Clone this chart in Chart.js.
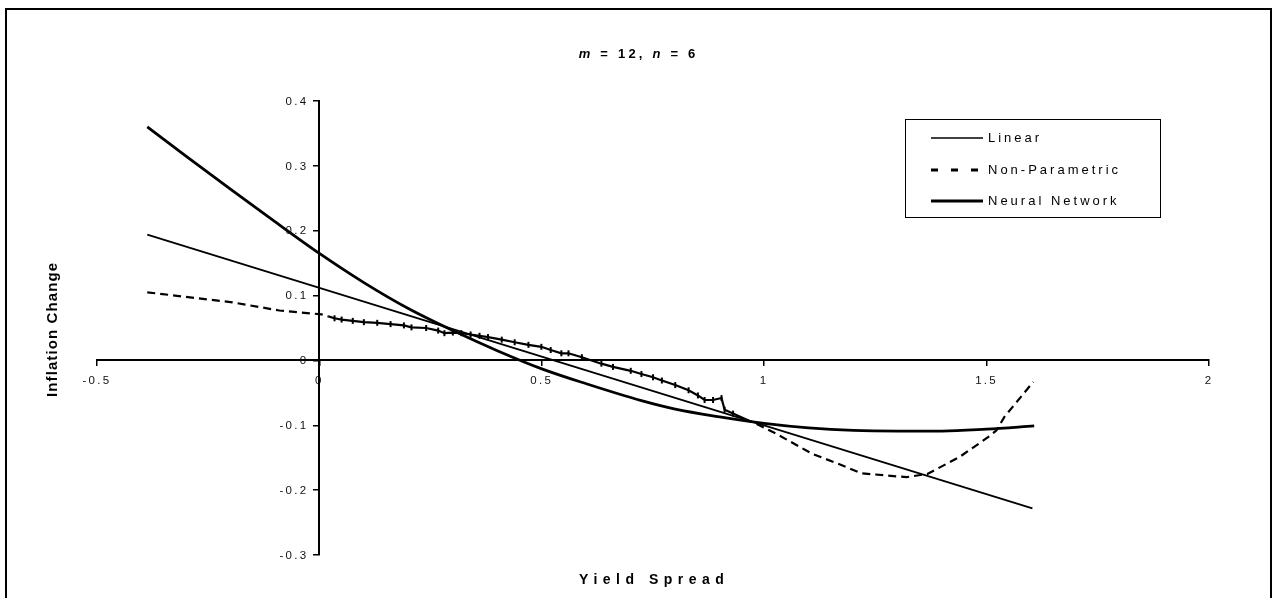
<!DOCTYPE html>
<html>
<head>
<meta charset="utf-8">
<script src="https://cdn.jsdelivr.net/npm/chart.js@4.4.1/dist/chart.umd.min.js"></script>
<style>
  html, body { margin: 0; padding: 0; background: #fff; }
  #wrap { position: relative; width: 1276px; height: 598px; }
</style>
</head>
<body>
<div id="wrap"><canvas id="c" width="1276" height="598"></canvas></div>
<script>
// ---- Data ----
const chartTitleParts = [["m", true], [" = 12, ", false], ["n", true], [" = 6", false]];
const xAxisTitle = "Yield Spread";
const yAxisTitle = "Inflation Change";
const seriesNames = ["Linear", "Non-Parametric", "Neural Network"];

const xTicksRange = [-0.5, 2, 0.5];   // min, max, step
const yTicksRange = [-0.3, 0.4, 0.1];

const linearX = [-0.387, 1.603];
const linearY = [0.194, -0.228];

const neuralX = [-0.387, -0.3, -0.2, -0.1, 0, 0.1, 0.2, 0.3, 0.4, 0.5, 0.6, 0.724, 0.8, 0.9, 1.0, 1.1, 1.2, 1.3, 1.4, 1.5, 1.607];
const neuralY = [0.360, 0.315, 0.264, 0.214, 0.165, 0.120, 0.080, 0.046, 0.015, -0.013, -0.036, -0.062, -0.075, -0.087, -0.097, -0.104, -0.108, -0.109, -0.109, -0.106, -0.101];

const nonParX = [-0.387, -0.3, -0.2, -0.09, 0.005, 0.02,
  0.034, 0.05, 0.075, 0.10, 0.13, 0.16, 0.19, 0.207, 0.24, 0.267, 0.281, 0.30, 0.319, 0.34,
  0.36, 0.379, 0.41, 0.439, 0.47, 0.499, 0.52, 0.544, 0.56, 0.59, 0.634, 0.66, 0.70, 0.724,
  0.75, 0.77, 0.80, 0.83, 0.851, 0.866, 0.885, 0.904, 0.911, 0.93, 0.956,
  0.989, 1.027, 1.108, 1.165, 1.218, 1.32, 1.367, 1.439, 1.504, 1.522, 1.54, 1.605];
const nonParY = [0.105, 0.098, 0.090, 0.077, 0.071, 0.068,
  0.065, 0.063, 0.061, 0.059, 0.058, 0.056, 0.054, 0.051, 0.050, 0.046, 0.042, 0.043, 0.042, 0.040,
  0.038, 0.036, 0.032, 0.028, 0.024, 0.021, 0.016, 0.011, 0.011, 0.005, -0.005, -0.010, -0.016, -0.021,
  -0.026, -0.031, -0.038, -0.046, -0.054, -0.061, -0.061, -0.058, -0.076, -0.082, -0.090,
  -0.100, -0.113, -0.144, -0.159, -0.174, -0.180, -0.175, -0.149, -0.118, -0.108, -0.087, -0.033];
const nonParDenseRange = [0.015, 0.95]; // drawn solid with small marks in the reference

// ---- Build ----
const pts = (xs, ys) => xs.map((x, i) => ({ x: x, y: ys[i] }));
const FONT = '"Liberation Sans", Arial, Helvetica, sans-serif';
const inDense = x => x >= nonParDenseRange[0] && x < nonParDenseRange[1];

const styles = [
  { width: 1.8, dash: [], legendWidth: 1.6, legendDash: [] },
  { width: 2.2, dash: [8, 5], legendWidth: 3, legendDash: [7, 13] },
  { width: 2.8, dash: [], legendWidth: 3, legendDash: [] }
];

const datasets = [
  { label: seriesNames[0], data: pts(linearX, linearY), borderColor: '#000', borderWidth: styles[0].width, showLine: true, pointRadius: 0, tension: 0 },
  { label: seriesNames[1], data: pts(nonParX, nonParY), borderColor: '#000', borderWidth: styles[1].width, showLine: true, tension: 0,
    pointStyle: 'line', rotation: 90, pointBorderColor: '#000', pointBorderWidth: 2,
    pointRadius: ctx => (ctx.raw && inDense(ctx.raw.x) && ctx.raw.x > 0.03) ? 3 : 0,
    segment: { borderDash: ctx => inDense(ctx.p0.parsed.x) ? [] : styles[1].dash } },
  { label: seriesNames[2], data: pts(neuralX, neuralY), borderColor: '#000', borderWidth: styles[2].width, showLine: true, pointRadius: 0, cubicInterpolationMode: 'monotone' }
];

const decor = {
  id: 'decor',
  beforeLayout(chart) { chart.ctx.letterSpacing = '2.3px'; },
  beforeDraw(chart) { chart.ctx.letterSpacing = '2.3px'; },
  afterDraw(chart) {
    const ctx = chart.ctx;
    const xs = chart.scales.x, ys = chart.scales.y;
    ctx.save();
    // outer frame
    ctx.strokeStyle = '#000';
    ctx.lineWidth = 2;
    ctx.strokeRect(6, 9, 1265, 600);

    // y tick labels, placed left of the tick marks
    ctx.fillStyle = '#111';
    ctx.font = '11.5px ' + FONT;
    ctx.letterSpacing = '2.3px';
    ctx.textAlign = 'right';
    ctx.textBaseline = 'middle';
    const axisX = xs.getPixelForValue(0);
    ys.ticks.forEach(t => {
      const lbl = String(Math.round(t.value * 10) / 10);
      ctx.fillText(lbl, axisX - 11, ys.getPixelForValue(t.value) + 0.5);
    });

    ctx.fillStyle = '#000';
    ctx.textBaseline = 'alphabetic';
    ctx.textAlign = 'left';
    // title with italic variables
    const tsp = 3.2;
    ctx.letterSpacing = tsp + 'px';
    let total = 0;
    const widths = chartTitleParts.map(([t, it]) => {
      ctx.font = (it ? 'italic ' : '') + 'bold 13px ' + FONT;
      const w = ctx.measureText(t).width;
      total += w;
      return w;
    });
    let tx = 637 - (total - tsp) / 2;
    chartTitleParts.forEach(([t, it], i) => {
      ctx.font = (it ? 'italic ' : '') + 'bold 13px ' + FONT;
      ctx.fillText(t, tx, 57.5);
      tx += widths[i];
    });

    // x axis title
    ctx.font = 'bold 14px ' + FONT;
    ctx.letterSpacing = '5.5px';
    ctx.textBaseline = 'middle';
    let w = ctx.measureText(xAxisTitle).width - 5.5;
    ctx.fillText(xAxisTitle, 651.5 - w / 2, 580);

    // y axis title
    ctx.save();
    ctx.translate(53, 330);
    ctx.rotate(-Math.PI / 2);
    ctx.font = 'bold 15px ' + FONT;
    ctx.letterSpacing = '1.1px';
    w = ctx.measureText(yAxisTitle).width - 1.1;
    ctx.fillText(yAxisTitle, -w / 2, 0);
    ctx.restore();

    // legend
    ctx.lineWidth = 1;
    ctx.strokeStyle = '#000';
    ctx.fillStyle = '#fff';
    ctx.fillRect(905.5, 119.5, 255, 98);
    ctx.strokeRect(905.5, 119.5, 255, 98);
    const rows = [138, 170, 201];
    ctx.font = '13px ' + FONT;
    ctx.letterSpacing = '3px';
    ctx.textBaseline = 'middle';
    chart.data.datasets.forEach((ds, i) => {
      ctx.beginPath();
      ctx.setLineDash(styles[i].legendDash);
      ctx.lineWidth = styles[i].legendWidth;
      ctx.moveTo(931, rows[i]);
      ctx.lineTo(983, rows[i]);
      ctx.stroke();
      ctx.setLineDash([]);
      ctx.fillStyle = '#000';
      ctx.fillText(ds.label, 988, rows[i] + 0.5);
    });
    ctx.restore();
  }
};

new Chart(document.getElementById('c'), {
  type: 'scatter',
  data: { datasets },
  options: {
    responsive: false,
    animation: false,
    events: [],
    layout: { padding: { left: 97, right: 67, top: 101, bottom: 43 } },
    plugins: { legend: { display: false }, title: { display: false }, tooltip: { enabled: false } },
    scales: {
      x: {
        type: 'linear',
        min: xTicksRange[0], max: xTicksRange[1],
        position: { y: 0 },
        ticks: { stepSize: xTicksRange[2], color: '#111', font: { family: FONT, size: 11.5 }, padding: 8, maxRotation: 0,
                 callback: v => String(Math.round(v * 10) / 10) },
        grid: { drawOnChartArea: false, drawTicks: true, tickLength: 5, color: '#000', lineWidth: 1.5 },
        border: { display: true, color: '#000', width: 2 }
      },
      y: {
        type: 'linear',
        min: yTicksRange[0], max: yTicksRange[1],
        position: { x: 0 },
        ticks: { stepSize: yTicksRange[2], display: false },
        grid: { drawOnChartArea: false, drawTicks: true, tickLength: 5, color: '#000', lineWidth: 1.5 },
        border: { display: true, color: '#000', width: 2 }
      }
    }
  },
  plugins: [decor]
});
</script>
</body>
</html>
